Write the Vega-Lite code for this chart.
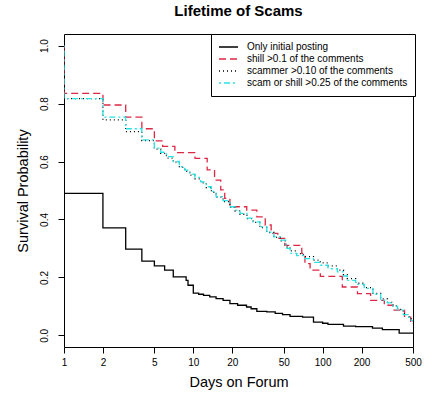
{
  "$schema": "https://vega.github.io/schema/vega-lite/v6.json",
  "width": 349,
  "height": 313,
  "autosize": {"type": "none"},
  "padding": {"left": 64, "top": 34, "right": 22, "bottom": 47},
  "background": "white",
  "title": {"text": "Lifetime of Scams", "font": "Liberation Sans", "fontSize": 15, "fontWeight": "bold", "anchor": "middle", "offset": 15, "color": "black"},
  "config": {
    "view": {"stroke": "black", "strokeWidth": 1},
    "axis": {"labelFont": "Liberation Sans", "titleFont": "Liberation Sans", "labelColor": "black", "titleColor": "black", "tickColor": "black", "domain": false, "grid": false, "tickSize": 6, "labelFontSize": 10, "titleFontSize": 14.5, "titleFontWeight": "normal"}
  },
  "datasets": {
    "km": [
      {"s":"Only initial posting","i":0,"d":1,"p":1.0},
      {"s":"Only initial posting","i":1,"d":1,"p":0.49},
      {"s":"Only initial posting","i":2,"d":2,"p":0.371},
      {"s":"Only initial posting","i":3,"d":3,"p":0.298},
      {"s":"Only initial posting","i":4,"d":4,"p":0.256},
      {"s":"Only initial posting","i":5,"d":5,"p":0.240},
      {"s":"Only initial posting","i":6,"d":6,"p":0.225},
      {"s":"Only initial posting","i":7,"d":7,"p":0.202},
      {"s":"Only initial posting","i":8,"d":8.8,"p":0.190},
      {"s":"Only initial posting","i":9,"d":9.1,"p":0.173},
      {"s":"Only initial posting","i":10,"d":10,"p":0.146},
      {"s":"Only initial posting","i":11,"d":11,"p":0.142},
      {"s":"Only initial posting","i":12,"d":12,"p":0.138},
      {"s":"Only initial posting","i":13,"d":13.4,"p":0.133},
      {"s":"Only initial posting","i":14,"d":15,"p":0.127},
      {"s":"Only initial posting","i":15,"d":17,"p":0.121},
      {"s":"Only initial posting","i":16,"d":19.2,"p":0.110},
      {"s":"Only initial posting","i":17,"d":22,"p":0.104},
      {"s":"Only initial posting","i":18,"d":25.8,"p":0.098},
      {"s":"Only initial posting","i":19,"d":28,"p":0.092},
      {"s":"Only initial posting","i":20,"d":31,"p":0.083},
      {"s":"Only initial posting","i":21,"d":37,"p":0.081},
      {"s":"Only initial posting","i":22,"d":43,"p":0.076},
      {"s":"Only initial posting","i":23,"d":49,"p":0.072},
      {"s":"Only initial posting","i":24,"d":56,"p":0.066},
      {"s":"Only initial posting","i":25,"d":70,"p":0.063},
      {"s":"Only initial posting","i":26,"d":85,"p":0.046},
      {"s":"Only initial posting","i":27,"d":100,"p":0.042},
      {"s":"Only initial posting","i":28,"d":110,"p":0.038},
      {"s":"Only initial posting","i":29,"d":145,"p":0.032},
      {"s":"Only initial posting","i":30,"d":180,"p":0.030},
      {"s":"Only initial posting","i":31,"d":243,"p":0.025},
      {"s":"Only initial posting","i":32,"d":290,"p":0.020},
      {"s":"Only initial posting","i":33,"d":391,"p":0.008},
      {"s":"Only initial posting","i":34,"d":500,"p":0.006},

      {"s":"shill >0.1 of the comments","i":0,"d":1,"p":1.0},
      {"s":"shill >0.1 of the comments","i":1,"d":1,"p":0.835},
      {"s":"shill >0.1 of the comments","i":2,"d":2,"p":0.795},
      {"s":"shill >0.1 of the comments","i":3,"d":3,"p":0.753},
      {"s":"shill >0.1 of the comments","i":4,"d":4,"p":0.713},
      {"s":"shill >0.1 of the comments","i":5,"d":5,"p":0.671},
      {"s":"shill >0.1 of the comments","i":6,"d":5.8,"p":0.652},
      {"s":"shill >0.1 of the comments","i":7,"d":7.2,"p":0.631},
      {"s":"shill >0.1 of the comments","i":8,"d":10.3,"p":0.611},
      {"s":"shill >0.1 of the comments","i":9,"d":12.8,"p":0.571},
      {"s":"shill >0.1 of the comments","i":10,"d":14.6,"p":0.536},
      {"s":"shill >0.1 of the comments","i":11,"d":16.3,"p":0.502},
      {"s":"shill >0.1 of the comments","i":12,"d":17.5,"p":0.473},
      {"s":"shill >0.1 of the comments","i":13,"d":19.2,"p":0.444},
      {"s":"shill >0.1 of the comments","i":14,"d":25.9,"p":0.432},
      {"s":"shill >0.1 of the comments","i":15,"d":31,"p":0.409},
      {"s":"shill >0.1 of the comments","i":16,"d":36,"p":0.381},
      {"s":"shill >0.1 of the comments","i":17,"d":40,"p":0.352},
      {"s":"shill >0.1 of the comments","i":18,"d":45,"p":0.335},
      {"s":"shill >0.1 of the comments","i":19,"d":51,"p":0.311},
      {"s":"shill >0.1 of the comments","i":20,"d":69,"p":0.283},
      {"s":"shill >0.1 of the comments","i":21,"d":73,"p":0.248},
      {"s":"shill >0.1 of the comments","i":22,"d":80,"p":0.225},
      {"s":"shill >0.1 of the comments","i":23,"d":96,"p":0.204},
      {"s":"shill >0.1 of the comments","i":24,"d":142,"p":0.167},
      {"s":"shill >0.1 of the comments","i":25,"d":186,"p":0.144},
      {"s":"shill >0.1 of the comments","i":26,"d":235,"p":0.121},
      {"s":"shill >0.1 of the comments","i":27,"d":300,"p":0.104},
      {"s":"shill >0.1 of the comments","i":28,"d":350,"p":0.087},
      {"s":"shill >0.1 of the comments","i":29,"d":430,"p":0.063},
      {"s":"shill >0.1 of the comments","i":30,"d":480,"p":0.046},
      {"s":"shill >0.1 of the comments","i":31,"d":500,"p":0.040},

      {"s":"scammer >0.10 of the comments","i":0,"d":1,"p":1.0},
      {"s":"scammer >0.10 of the comments","i":1,"d":1,"p":0.817},
      {"s":"scammer >0.10 of the comments","i":2,"d":2,"p":0.744},
      {"s":"scammer >0.10 of the comments","i":3,"d":3,"p":0.703},
      {"s":"scammer >0.10 of the comments","i":4,"d":4,"p":0.672},
      {"s":"scammer >0.10 of the comments","i":5,"d":5,"p":0.643},
      {"s":"scammer >0.10 of the comments","i":6,"d":5.6,"p":0.628},
      {"s":"scammer >0.10 of the comments","i":7,"d":6.2,"p":0.612},
      {"s":"scammer >0.10 of the comments","i":8,"d":7,"p":0.598},
      {"s":"scammer >0.10 of the comments","i":9,"d":7.8,"p":0.580},
      {"s":"scammer >0.10 of the comments","i":10,"d":8.6,"p":0.566},
      {"s":"scammer >0.10 of the comments","i":11,"d":9.4,"p":0.553},
      {"s":"scammer >0.10 of the comments","i":12,"d":10.3,"p":0.540},
      {"s":"scammer >0.10 of the comments","i":13,"d":11.4,"p":0.526},
      {"s":"scammer >0.10 of the comments","i":14,"d":12.6,"p":0.510},
      {"s":"scammer >0.10 of the comments","i":15,"d":13.8,"p":0.494},
      {"s":"scammer >0.10 of the comments","i":16,"d":15,"p":0.477},
      {"s":"scammer >0.10 of the comments","i":17,"d":17,"p":0.462},
      {"s":"scammer >0.10 of the comments","i":18,"d":19.2,"p":0.442},
      {"s":"scammer >0.10 of the comments","i":19,"d":21,"p":0.430},
      {"s":"scammer >0.10 of the comments","i":20,"d":23,"p":0.418},
      {"s":"scammer >0.10 of the comments","i":21,"d":26,"p":0.403},
      {"s":"scammer >0.10 of the comments","i":22,"d":29,"p":0.390},
      {"s":"scammer >0.10 of the comments","i":23,"d":32.7,"p":0.372},
      {"s":"scammer >0.10 of the comments","i":24,"d":37,"p":0.355},
      {"s":"scammer >0.10 of the comments","i":25,"d":42,"p":0.338},
      {"s":"scammer >0.10 of the comments","i":26,"d":47,"p":0.326},
      {"s":"scammer >0.10 of the comments","i":27,"d":52,"p":0.305},
      {"s":"scammer >0.10 of the comments","i":28,"d":56,"p":0.292},
      {"s":"scammer >0.10 of the comments","i":29,"d":63,"p":0.282},
      {"s":"scammer >0.10 of the comments","i":30,"d":71,"p":0.272},
      {"s":"scammer >0.10 of the comments","i":31,"d":85,"p":0.260},
      {"s":"scammer >0.10 of the comments","i":32,"d":96,"p":0.250},
      {"s":"scammer >0.10 of the comments","i":33,"d":110,"p":0.240},
      {"s":"scammer >0.10 of the comments","i":34,"d":130,"p":0.225},
      {"s":"scammer >0.10 of the comments","i":35,"d":145,"p":0.210},
      {"s":"scammer >0.10 of the comments","i":36,"d":155,"p":0.196},
      {"s":"scammer >0.10 of the comments","i":37,"d":180,"p":0.180},
      {"s":"scammer >0.10 of the comments","i":38,"d":210,"p":0.165},
      {"s":"scammer >0.10 of the comments","i":39,"d":245,"p":0.145},
      {"s":"scammer >0.10 of the comments","i":40,"d":281,"p":0.126},
      {"s":"scammer >0.10 of the comments","i":41,"d":317,"p":0.114},
      {"s":"scammer >0.10 of the comments","i":42,"d":350,"p":0.102},
      {"s":"scammer >0.10 of the comments","i":43,"d":380,"p":0.090},
      {"s":"scammer >0.10 of the comments","i":44,"d":420,"p":0.075},
      {"s":"scammer >0.10 of the comments","i":45,"d":454,"p":0.064},
      {"s":"scammer >0.10 of the comments","i":46,"d":485,"p":0.054},
      {"s":"scammer >0.10 of the comments","i":47,"d":500,"p":0.050},

      {"s":"scam or shill >0.25 of the comments","i":0,"d":1,"p":1.0},
      {"s":"scam or shill >0.25 of the comments","i":1,"d":1,"p":0.817},
      {"s":"scam or shill >0.25 of the comments","i":2,"d":2,"p":0.753},
      {"s":"scam or shill >0.25 of the comments","i":3,"d":3,"p":0.713},
      {"s":"scam or shill >0.25 of the comments","i":4,"d":4,"p":0.675},
      {"s":"scam or shill >0.25 of the comments","i":5,"d":5,"p":0.646},
      {"s":"scam or shill >0.25 of the comments","i":6,"d":5.6,"p":0.632},
      {"s":"scam or shill >0.25 of the comments","i":7,"d":6.2,"p":0.617},
      {"s":"scam or shill >0.25 of the comments","i":8,"d":7,"p":0.600},
      {"s":"scam or shill >0.25 of the comments","i":9,"d":7.8,"p":0.582},
      {"s":"scam or shill >0.25 of the comments","i":10,"d":8.6,"p":0.570},
      {"s":"scam or shill >0.25 of the comments","i":11,"d":9.4,"p":0.556},
      {"s":"scam or shill >0.25 of the comments","i":12,"d":10.3,"p":0.545},
      {"s":"scam or shill >0.25 of the comments","i":13,"d":11.4,"p":0.530},
      {"s":"scam or shill >0.25 of the comments","i":14,"d":12.6,"p":0.513},
      {"s":"scam or shill >0.25 of the comments","i":15,"d":13.8,"p":0.497},
      {"s":"scam or shill >0.25 of the comments","i":16,"d":15,"p":0.479},
      {"s":"scam or shill >0.25 of the comments","i":17,"d":17,"p":0.465},
      {"s":"scam or shill >0.25 of the comments","i":18,"d":19.2,"p":0.444},
      {"s":"scam or shill >0.25 of the comments","i":19,"d":21,"p":0.432},
      {"s":"scam or shill >0.25 of the comments","i":20,"d":23,"p":0.421},
      {"s":"scam or shill >0.25 of the comments","i":21,"d":26,"p":0.405},
      {"s":"scam or shill >0.25 of the comments","i":22,"d":29,"p":0.392},
      {"s":"scam or shill >0.25 of the comments","i":23,"d":32.7,"p":0.375},
      {"s":"scam or shill >0.25 of the comments","i":24,"d":37,"p":0.356},
      {"s":"scam or shill >0.25 of the comments","i":25,"d":42,"p":0.340},
      {"s":"scam or shill >0.25 of the comments","i":26,"d":47,"p":0.329},
      {"s":"scam or shill >0.25 of the comments","i":27,"d":52,"p":0.300},
      {"s":"scam or shill >0.25 of the comments","i":28,"d":56,"p":0.283},
      {"s":"scam or shill >0.25 of the comments","i":29,"d":63,"p":0.275},
      {"s":"scam or shill >0.25 of the comments","i":30,"d":71,"p":0.265},
      {"s":"scam or shill >0.25 of the comments","i":31,"d":85,"p":0.252},
      {"s":"scam or shill >0.25 of the comments","i":32,"d":96,"p":0.242},
      {"s":"scam or shill >0.25 of the comments","i":33,"d":110,"p":0.230},
      {"s":"scam or shill >0.25 of the comments","i":34,"d":130,"p":0.219},
      {"s":"scam or shill >0.25 of the comments","i":35,"d":145,"p":0.205},
      {"s":"scam or shill >0.25 of the comments","i":36,"d":155,"p":0.190},
      {"s":"scam or shill >0.25 of the comments","i":37,"d":180,"p":0.176},
      {"s":"scam or shill >0.25 of the comments","i":38,"d":210,"p":0.162},
      {"s":"scam or shill >0.25 of the comments","i":39,"d":245,"p":0.142},
      {"s":"scam or shill >0.25 of the comments","i":40,"d":281,"p":0.121},
      {"s":"scam or shill >0.25 of the comments","i":41,"d":317,"p":0.112},
      {"s":"scam or shill >0.25 of the comments","i":42,"d":350,"p":0.100},
      {"s":"scam or shill >0.25 of the comments","i":43,"d":380,"p":0.087},
      {"s":"scam or shill >0.25 of the comments","i":44,"d":420,"p":0.072},
      {"s":"scam or shill >0.25 of the comments","i":45,"d":454,"p":0.062},
      {"s":"scam or shill >0.25 of the comments","i":46,"d":485,"p":0.052},
      {"s":"scam or shill >0.25 of the comments","i":47,"d":500,"p":0.046}
    ]
  },
  "data": {"name": "km"},
  "mark": {"type": "line", "interpolate": "step-after", "clip": true, "strokeWidth": 1.3},
  "encoding": {
    "x": {"field": "d", "type": "quantitative",
      "scale": {"type": "log", "domain": [1, 500], "nice": false},
      "axis": {"values": [1, 2, 5, 10, 20, 50, 100, 200, 500], "format": "d", "labelPadding": 4, "title": "Days on Forum", "titlePadding": 8, "labelFlush": false, "labelOverlap": false}},
    "y": {"field": "p", "type": "quantitative",
      "scale": {"domain": [-0.04, 1.04], "nice": false, "zero": false},
      "axis": {"values": [0, 0.2, 0.4, 0.6, 0.8, 1.0], "format": ".1f", "labelAngle": 270, "labelAlign": "center", "labelBaseline": "bottom", "labelPadding": 9, "title": "Survival Probability", "titlePadding": 9}},
    "color": {"field": "s", "type": "nominal",
      "scale": {"domain": ["Only initial posting", "shill >0.1 of the comments", "scammer >0.10 of the comments", "scam or shill >0.25 of the comments"], "range": ["black", "#DC2845", "black", "#28E2E5"]},
      "legend": {"title": null, "orient": "none", "legendX": 147, "legendY": 0, "direction": "vertical", "strokeColor": "black", "fillColor": "white", "padding": 7, "symbolType": "stroke", "symbolSize": 361, "symbolStrokeWidth": 1.3, "labelFont": "Liberation Sans", "labelFontSize": 10, "labelColor": "black", "labelOffset": 8, "clipHeight": 12, "rowPadding": 0, "labelLimit": 300}},
    "strokeDash": {"field": "s", "type": "nominal",
      "scale": {"domain": ["Only initial posting", "shill >0.1 of the comments", "scammer >0.10 of the comments", "scam or shill >0.25 of the comments"], "range": [[1, 0], [7, 4], [1, 3], [2, 3, 6, 3]]},
      "legend": {"title": null, "orient": "none", "legendX": 147, "legendY": 0, "direction": "vertical", "strokeColor": "black", "fillColor": "white", "padding": 7, "symbolType": "stroke", "symbolSize": 361, "symbolStrokeWidth": 1.3, "labelFont": "Liberation Sans", "labelFontSize": 10, "labelColor": "black", "labelOffset": 8, "clipHeight": 12, "rowPadding": 0, "labelLimit": 300}},
    "order": {"field": "i", "type": "quantitative"}
  }
}
